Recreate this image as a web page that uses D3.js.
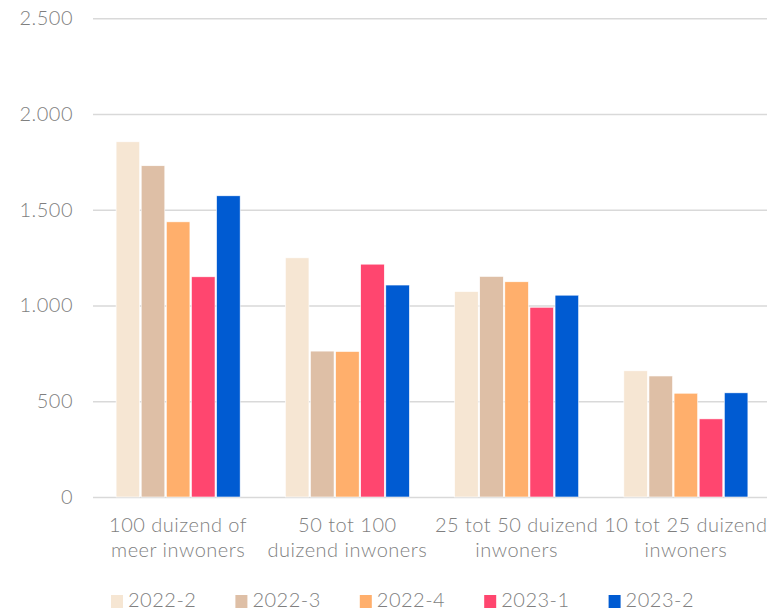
<!DOCTYPE html>
<html>
<head>
<meta charset="utf-8">
<script src="https://cdn.jsdelivr.net/npm/d3@7"></script>
<style>
  html, body { margin: 0; padding: 0; background: #fff; }
  svg { display: block; font-family: Lato, "Open Sans", sans-serif; font-weight: 300; }
  .lbl { font-size: 20px; letter-spacing: 0.5px; }
</style>
</head>
<body>
<svg id="chart" width="767" height="611"></svg>
<script>
// Categories (municipality size classes)
const categories = [
  ["100 duizend of", "meer inwoners"],
  ["50 tot 100", "duizend inwoners"],
  ["25 tot 50 duizend", "inwoners"],
  ["10 tot 25 duizend", "inwoners"]
];
// Quarters
const seriesNames = ["2022-2", "2022-3", "2022-4", "2023-1", "2023-2"];
const seriesColors = ["#F6E6D3", "#DEBFA6", "#FFAF6C", "#FF466F", "#005BD2"];
// Values per quarter, one per category
const v2022_2 = [1855, 1249, 1073, 659];
const v2022_3 = [1730, 762, 1152, 632];
const v2022_4 = [1437, 760, 1124, 542];
const v2023_1 = [1150, 1216, 991, 408];
const v2023_2 = [1573, 1107, 1054, 544];
const seriesValues = [v2022_2, v2022_3, v2022_4, v2023_1, v2023_2];
const yTicks = [0, 500, 1000, 1500, 2000, 2500];

const nl = d3.formatLocale({decimal: ",", thousands: ".", grouping: [3], currency: ["€", ""]});
const fmt = nl.format(",d");

const svg = d3.select("#chart");
const textColor = "#7F7F7F";

const x0 = d3.scaleBand()
  .domain(d3.range(categories.length))
  .range([93.5, 770.5])
  .paddingInner(0.267)
  .paddingOuter(0.1335);

const x1 = d3.scaleBand()
  .domain(seriesNames)
  .range([0, x0.bandwidth()])
  .paddingInner(0.06);

const y = d3.scaleLinear().domain([0, 2500]).range([497, 18.3]);

// Gridlines and y labels
const yAxis = d3.axisLeft(y).tickValues(yTicks).tickFormat(fmt)
  .tickSize(-(767 - 93)).tickPadding(20);
const gy = svg.append("g").attr("transform", "translate(93,0)").call(yAxis);
gy.select(".domain").remove();
gy.selectAll(".tick line").attr("stroke", "#D9D9D9").attr("stroke-width", 1.5);
gy.selectAll(".tick text")
  .attr("class", "lbl")
  .attr("fill", textColor)
  .style("font-family", "Lato, sans-serif")
  .style("font-weight", 300);

// Bars
const groups = svg.append("g").selectAll("g")
  .data(categories.map((c, i) => i))
  .join("g")
  .attr("transform", i => `translate(${x0(i)},0)`);

groups.selectAll("rect")
  .data(i => seriesNames.map((s, k) => ({s, k, v: seriesValues[k][i]})))
  .join("rect")
  .attr("x", d => x1(d.s))
  .attr("width", x1.bandwidth())
  .attr("y", d => y(d.v))
  .attr("height", d => y(0) - y(d.v))
  .attr("fill", d => seriesColors[d.k])
  .attr("stroke", "#fff")
  .attr("stroke-width", 0.6);

// Category labels
const labels = svg.append("g").selectAll("text")
  .data(categories)
  .join("text")
  .attr("class", "lbl")
  .attr("text-anchor", "middle")
  .attr("fill", textColor)
  .attr("transform", (d, i) => `translate(${x0(i) + x0.bandwidth() / 2},532)`);
labels.selectAll("tspan")
  .data(d => d)
  .join("tspan")
  .attr("x", 0)
  .attr("dy", (d, j) => j === 0 ? 0 : 24.5)
  .text(d => d);

// Legend
const legend = svg.append("g").selectAll("g")
  .data(seriesNames)
  .join("g")
  .attr("transform", (d, i) => `translate(${111 + i * 124.4},0)`);
legend.append("rect")
  .attr("x", 0).attr("y", 595).attr("width", 12).attr("height", 13)
  .attr("fill", (d, i) => seriesColors[i]);
legend.append("text")
  .attr("class", "lbl")
  .attr("x", 17).attr("y", 607)
  .attr("fill", textColor)
  .text(d => d);
</script>
</body>
</html>
